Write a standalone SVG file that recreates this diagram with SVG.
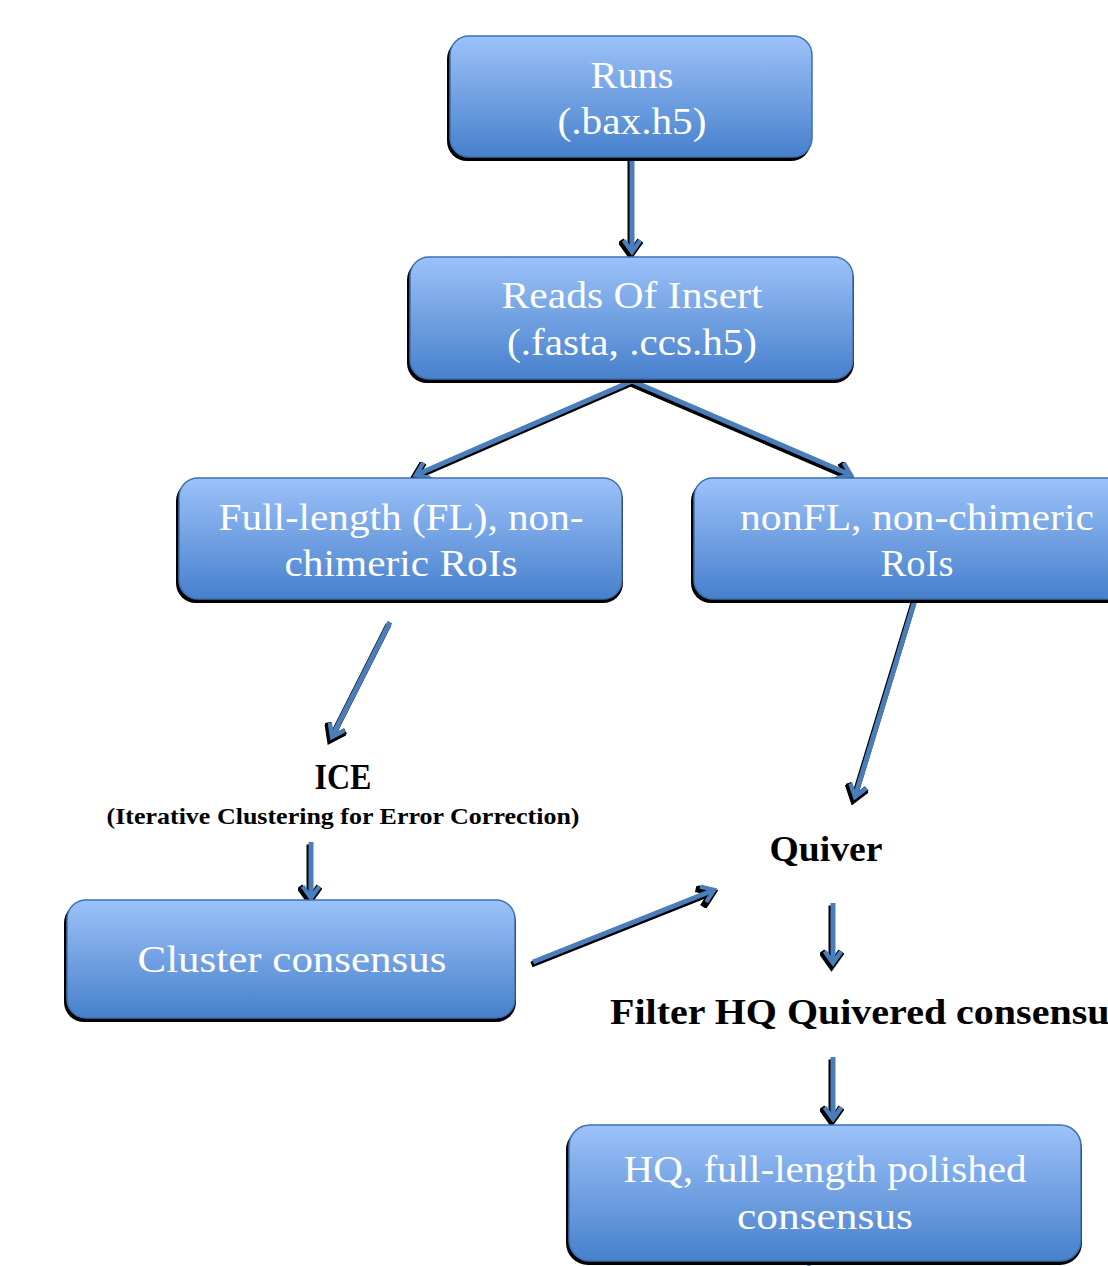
<svg xmlns="http://www.w3.org/2000/svg" width="1108" height="1266" viewBox="0 0 1108 1266">
<defs>
<linearGradient id="g" x1="0" y1="0" x2="0" y2="1">
<stop offset="0" stop-color="#9cc2f9"/>
<stop offset="1" stop-color="#4780cc"/>
</linearGradient>
<marker id="ah" viewBox="0 0 12 12" refX="9" refY="6" markerWidth="4" markerHeight="4" orient="auto" markerUnits="strokeWidth">
<path d="M2,1 L9,6 L2,11" fill="none" stroke="#4a7ebb" stroke-width="2.6" stroke-linejoin="miter"/>
</marker>
<marker id="ahs" viewBox="0 0 12 12" refX="9" refY="6" markerWidth="4" markerHeight="4" orient="auto" markerUnits="strokeWidth">
<path d="M2,1 L9,6 L2,11" fill="none" stroke="#000" stroke-width="3.6" stroke-linejoin="miter"/>
</marker>
</defs>
<style>
.box{fill:url(#g);stroke:#3e70b0;stroke-width:1.5}
.sh{fill:#000}
.t{font-family:"Liberation Serif","DejaVu Serif",serif;font-size:38px;fill:#fff;text-anchor:middle}
.b{font-family:"Liberation Serif","DejaVu Serif",serif;font-weight:bold;fill:#000}
.m{text-anchor:middle}
.c{fill:none;stroke:#4a7ebb;stroke-width:5;marker-end:url(#ah)}
.cs{fill:none;stroke:#000;stroke-width:6;marker-end:url(#ahs)}
</style>
<rect width="1108" height="1266" fill="#fff"/>
<g id="connectors">
<g transform="translate(-1.5,2.5)">
<path class="cs" d="M632,158 L632,252"/>
<path class="cs" d="M632,381 L416,475"/>
<path class="cs" d="M632,381 L851,475"/>
<path class="cs" d="M390,622 L332,737"/>
<path class="cs" d="M915,600 L855,797"/>
<path class="cs" d="M311,842 L311,898"/>
<path class="cs" d="M533,962 L714,890"/>
<path class="cs" d="M833,903 L833,963"/>
<path class="cs" d="M833,1057 L833,1119"/>
</g>
<path class="c" d="M632,158 L632,252"/>
<path class="c" d="M632,381 L416,475"/>
<path class="c" d="M632,381 L851,475"/>
<path class="c" d="M390,622 L332,737"/>
<path class="c" d="M915,600 L855,797"/>
<path class="c" d="M311,842 L311,898"/>
<path class="c" d="M533,962 L714,890"/>
<path class="c" d="M833,903 L833,963"/>
<path class="c" d="M833,1057 L833,1119"/>
<path d="M811,1261 L808,1266" stroke="#4a7ebb" stroke-width="4" fill="none"/>
</g>
<g id="runs">
<rect class="sh" x="447" y="39" width="364" height="122" rx="20"/>
<rect class="box" x="450" y="36" width="362" height="121" rx="19"/>
<text class="t" x="632" y="88" textLength="83" lengthAdjust="spacingAndGlyphs">Runs</text>
<text class="t" x="632" y="134" textLength="149" lengthAdjust="spacingAndGlyphs">(.bax.h5)</text>
</g>
<g id="reads">
<rect class="sh" x="407" y="260" width="447" height="123" rx="20"/>
<rect class="box" x="410" y="257" width="443" height="122" rx="19"/>
<text class="t" x="632" y="308" textLength="261" lengthAdjust="spacingAndGlyphs">Reads Of Insert</text>
<text class="t" x="632" y="355" textLength="250" lengthAdjust="spacingAndGlyphs">(.fasta, .ccs.h5)</text>
</g>
<g id="fl">
<rect class="sh" x="176" y="481" width="447" height="122" rx="20"/>
<rect class="box" x="179" y="478" width="443" height="121" rx="19"/>
<text class="t" x="401" y="530" textLength="365" lengthAdjust="spacingAndGlyphs">Full-length (FL), non-</text>
<text class="t" x="401" y="576" textLength="233" lengthAdjust="spacingAndGlyphs">chimeric RoIs</text>
</g>
<g id="nonfl">
<rect class="sh" x="691" y="481" width="440" height="122" rx="20"/>
<rect class="box" x="694" y="478" width="437" height="121" rx="19"/>
<text class="t" x="917" y="530" textLength="354" lengthAdjust="spacingAndGlyphs">nonFL, non-chimeric</text>
<text class="t" x="917" y="576" textLength="73" lengthAdjust="spacingAndGlyphs">RoIs</text>
</g>
<g id="ice">
<text class="b m" x="343" y="789" font-size="35" textLength="57" lengthAdjust="spacingAndGlyphs">ICE</text>
<text class="b m" x="343" y="824" font-size="23" textLength="473" lengthAdjust="spacingAndGlyphs">(Iterative Clustering for Error Correction)</text>
</g>
<g id="cluster">
<rect class="sh" x="64" y="903" width="452" height="119" rx="20"/>
<rect class="box" x="67" y="900" width="448" height="118" rx="19"/>
<text class="t" x="292" y="972" textLength="309" lengthAdjust="spacingAndGlyphs">Cluster consensus</text>
</g>
<g id="quiver">
<text class="b m" x="826" y="861" font-size="35" textLength="113" lengthAdjust="spacingAndGlyphs">Quiver</text>
</g>
<g id="filter">
<text class="b" x="610" y="1024" font-size="35" textLength="515" lengthAdjust="spacingAndGlyphs">Filter HQ Quivered consensus</text>
</g>
<g id="hq">
<rect class="sh" x="566" y="1128" width="516" height="137" rx="22"/>
<rect class="box" x="569" y="1125" width="512" height="136" rx="21"/>
<text class="t" x="825" y="1182" textLength="403" lengthAdjust="spacingAndGlyphs">HQ, full-length polished</text>
<text class="t" x="825" y="1229" textLength="176" lengthAdjust="spacingAndGlyphs">consensus</text>
</g>
</svg>
